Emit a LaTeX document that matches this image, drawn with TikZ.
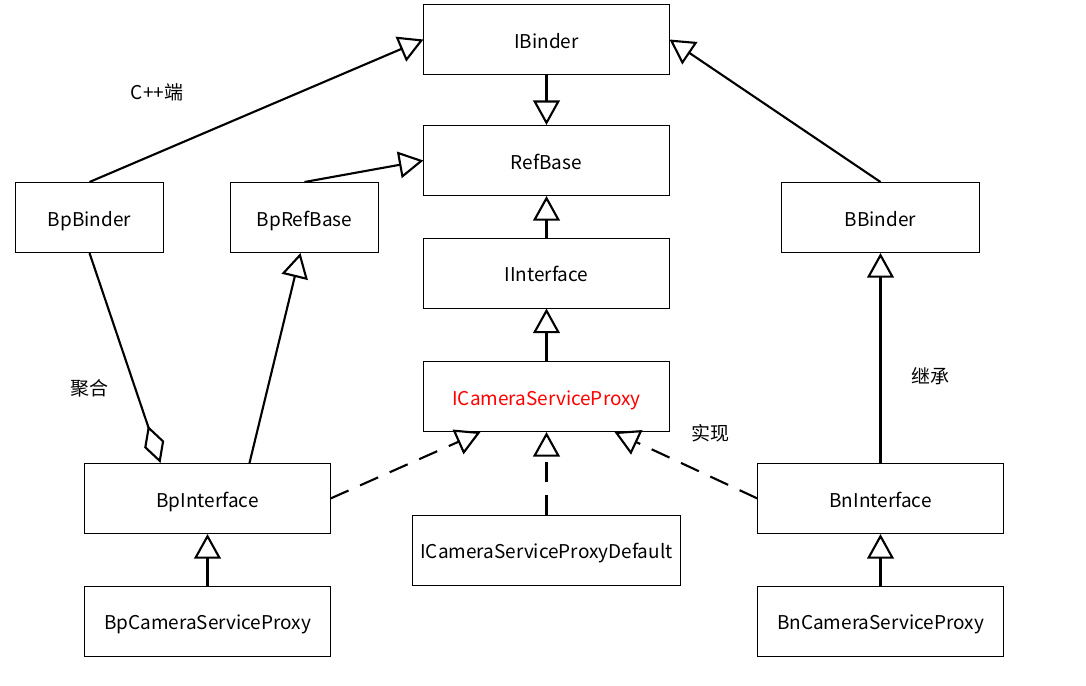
\documentclass[tikz,border=0pt]{standalone}
\usepackage{fontspec}
\setmainfont{Noto Sans CJK SC}
\usetikzlibrary{arrows.meta,calc}

\begin{document}
\begin{tikzpicture}[x=0.025cm,y=-0.025cm,
    cls/.style={draw,line width=0.7pt,minimum width=6.125cm,minimum height=1.75cm,inner sep=0pt,
        text height=12.5pt,text depth=0.2pt,font=\fontsize{13.5}{16}\selectfont},
    lbl/.style={font=\fontsize{13.5}{16}\selectfont},
    inherit/.style={line width=1.5pt,-{Triangle[open,length=17.5pt,width=19pt]}},
    realize/.style={inherit,dash pattern=on 14pt off 9pt},
    aggr/.style={line width=1.5pt,-{Diamond[open,length=28pt,width=15pt]}}]
    \useasboundingbox (0,0) rectangle (1086,685);

    % Middle column
    \node[cls] (ibinder) at (546.5,39.5) {IBinder};
    \node[cls] (refbase) at (546.5,160.5) {RefBase};
    \node[cls] (iinterface) at (546.5,273) {IInterface};
    \node[cls,text=red] (icsp) at (546.5,396.5) {ICameraServiceProxy};
    \node[cls,minimum width=6.675cm] (icspdefault) at (546.5,550) {ICameraServiceProxyDefault};

    % Client side
    \node[cls,minimum width=3.675cm] (bpbinder) at (89.5,217.5) {BpBinder};
    \node[cls,minimum width=3.675cm] (bprefbase) at (304.5,217.5) {BpRefBase};
    \node[cls] (bpinterface) at (207.5,498.5) {BpInterface};
    \node[cls] (bpcsp) at (207.5,621) {BpCameraServiceProxy};

    % Server side
    \node[cls,minimum width=4.925cm] (bbinder) at (880.5,217.5) {BBinder};
    \node[cls] (bninterface) at (880.5,498.5) {BnInterface};
    \node[cls] (bncsp) at (880.5,621) {BnCameraServiceProxy};

    % Labels
    \node[lbl] (lblcpp) at (157,92) {C++端};
    \node[lbl] (lblaggr) at (89,388) {聚合};
    \node[lbl] (lblinherit) at (930,376) {继承};
    \node[lbl] (lblrealize) at (710,433) {实现};

    % Inheritance
    \draw[inherit] (ibinder) -- (refbase);
    \draw[inherit] (iinterface) -- (refbase);
    \draw[inherit] (icsp) -- (iinterface);
    \draw[inherit] (bpbinder.north) -- (ibinder.west);
    \draw[inherit] (bbinder.north) -- (ibinder.east);
    \draw[inherit] (bprefbase.north) -- (refbase.west);
    \draw[inherit] ($(bpinterface.north)+(42,0)$) -- ($(bprefbase.south)+(-4,0)$);
    \draw[inherit] (bninterface) -- (bbinder);
    \draw[inherit] (bpcsp) -- (bpinterface);
    \draw[inherit] (bncsp) -- (bninterface);

    % Aggregation
    \draw[aggr] (bpbinder.south) -- ($(bpinterface.north)+(-47,0)$);

    % Realization
    \draw[realize] (bpinterface.east) -- ($(icsp.south)+(-66,0)$);
    \draw[realize] (icspdefault) -- (icsp);
    \draw[realize] (bninterface.west) -- ($(icsp.south)+(68,0)$);
\end{tikzpicture}
\end{document}
